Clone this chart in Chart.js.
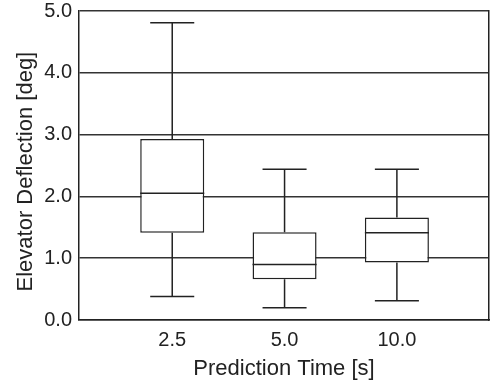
<!DOCTYPE html>
<html>
<head>
<meta charset="utf-8">
<script src="https://cdn.jsdelivr.net/npm/chart.js@4.4.1/dist/chart.umd.min.js"></script>
<style>
  html, body { margin: 0; padding: 0; background: #fff; }
  #wrap { width: 490px; height: 385px; }
</style>
</head>
<body>
<div id="wrap"><canvas id="boxChart" width="490" height="385"></canvas></div>
<script>
// values
const categories = ['2.5', '5.0', '10.0'];
const whiskerLow = [0.38, 0.20, 0.31];
const boxLow = [1.41, 0.66, 0.93];
const medians = [2.05, 0.90, 1.41];
const boxHigh = [2.93, 1.42, 1.66];
const whiskerHigh = [4.81, 2.44, 2.44];

const ink = '#222';
const capHalf = 0.196;
const boxHalf = 0.285;

// segments split by null points so each whisker/cap is its own line
const segs = (fn) => {
    const out = [];
    categories.forEach((c, i) => {
        fn(i).forEach(p => out.push(p));
        out.push({x: i, y: null});
    });
    return out;
};

const whiskerPts = segs(i => [
    {x: i, y: whiskerLow[i]}, {x: i, y: boxLow[i]}, {x: i, y: null},
    {x: i, y: boxHigh[i]}, {x: i, y: whiskerHigh[i]}
]);
const capPts = segs(i => [
    {x: i - capHalf, y: whiskerLow[i]}, {x: i + capHalf, y: whiskerLow[i]}, {x: i, y: null},
    {x: i - capHalf, y: whiskerHigh[i]}, {x: i + capHalf, y: whiskerHigh[i]}
]);
const medianPts = segs(i => [
    {x: i - boxHalf, y: medians[i]}, {x: i + boxHalf, y: medians[i]}
]);

const lineDs = (data, order) => ({
    type: 'line',
    data: data,
    borderColor: ink,
    borderWidth: 1.5,
    pointRadius: 0,
    spanGaps: false,
    fill: false,
    order: order
});

const ctx = document.getElementById('boxChart');
new Chart(ctx, {
    type: 'bar',
    data: {
        datasets: [
            lineDs(medianPts, 0),
            {
                type: 'bar',
                data: categories.map((c, i) => ({x: i, y: [boxLow[i], boxHigh[i]]})),
                backgroundColor: '#fff',
                borderColor: ink,
                borderWidth: 1.5,
                borderSkipped: false,
                barPercentage: boxHalf * 2,
                categoryPercentage: 1,
                order: 1
            },
            lineDs(whiskerPts, 2),
            lineDs(capPts, 2)
        ]
    },
    options: {
        responsive: false,
        animation: false,
        devicePixelRatio: 1,
        layout: { padding: { top: 11, right: 0, bottom: 0, left: 0 } },
        plugins: { legend: { display: false }, tooltip: { enabled: false } },
        scales: {
            x: {
                type: 'linear',
                offset: false,
                min: -0.83,
                max: 2.82,
                afterBuildTicks: (scale) => {
                    scale.ticks = categories.map((c, i) => ({value: i}));
                },
                afterFit: (scale) => { scale.height = 65; },
                grid: { display: false, drawTicks: false },
                border: { display: true, color: ink, width: 1.5 },
                ticks: {
                    color: ink,
                    padding: 8,
                    font: { family: 'Liberation Sans', size: 20 },
                    callback: (v) => categories[v]
                },
                title: {
                    display: true,
                    text: 'Prediction Time [s]',
                    color: ink,
                    padding: { top: 0, bottom: 3 },
                    font: { family: 'Liberation Sans', size: 22 }
                }
            },
            y: {
                min: 0,
                max: 5,
                afterFit: (scale) => { scale.width = 79; scale.paddingTop = 0; scale.paddingBottom = 0; },
                grid: { color: '#333', lineWidth: 1.5, drawTicks: false },
                border: { display: true, color: ink, width: 1.5 },
                ticks: {
                    stepSize: 1,
                    color: ink,
                    padding: 7,
                    font: { family: 'Liberation Sans', size: 20 },
                    callback: (v) => v.toFixed(1)
                },
                title: {
                    display: true,
                    // trailing spaces nudge the centred title down a little
                    text: 'Elevator Deflection [deg]\u00a0\u00a0',
                    color: ink,
                    padding: { top: 13, bottom: 0 },
                    font: { family: 'Liberation Sans', size: 22 }
                }
            },
            yRight: {
                position: 'right',
                display: true,
                afterFit: (scale) => { scale.width = 1; },
                grid: { display: false, drawTicks: false },
                border: { display: true, color: ink, width: 1.5 },
                ticks: { display: false }
            }
        }
    }
});
</script>
</body>
</html>
